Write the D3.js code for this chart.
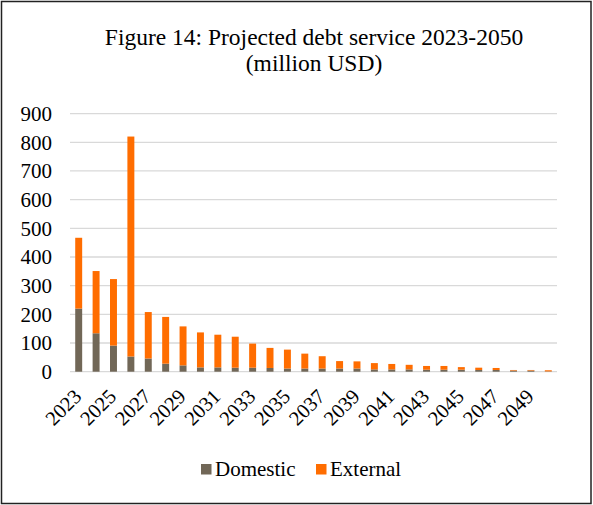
<!DOCTYPE html>
<html>
<head>
<meta charset="utf-8">
<script src="https://cdn.jsdelivr.net/npm/d3@7"></script>
<style>
  body { margin: 0; background: #fff; }
  svg { display: block; }
</style>
</head>
<body>
<svg id="chart" width="593" height="505"></svg>
<script>
// Projected debt service by year (million USD)
const years = d3.range(2023, 2051).map(String);
const domestic = [220, 134, 91, 53, 46, 28, 22, 15, 15, 14, 14, 13, 11, 11, 11, 11, 11, 8, 8, 8, 7, 7, 7, 6, 6, 4, 4, 1];
const external = [247, 217, 232, 767, 162, 163, 136, 122, 114, 108, 84, 70, 66, 52, 43, 26, 25, 22, 19, 16, 13, 13, 9, 8, 7, 2, 2, 4];
const yTicks = [0, 100, 200, 300, 400, 500, 600, 700, 800, 900];
const xTickLabels = years.filter((d, i) => i % 2 === 0);
const seriesNames = ["Domestic", "External"];
const seriesColors = ["#716757", "#ff6d00"];

const FONT = "'Liberation Serif', 'Times New Roman', serif";
const svg = d3.select("#chart");
const W = 593, H = 505;

// outer frame
svg.append("rect")
  .attr("x", 1.5).attr("y", 1.5)
  .attr("width", W - 3.5).attr("height", H - 3)
  .attr("fill", "none").attr("stroke", "#222").attr("stroke-width", 1.5);

// title
const title = svg.append("text")
  .attr("text-anchor", "middle")
  .attr("font-family", FONT)
  .attr("font-size", 23.5);
title.append("tspan").attr("x", 314).attr("y", 45).text("Figure 14: Projected debt service 2023-2050");
title.append("tspan").attr("x", 314).attr("y", 71).text("(million USD)");

const plot = { left: 70, right: 557, top: 113.6, bottom: 371.7 };

const x = d3.scaleBand()
  .domain(years)
  .range([plot.left, plot.right])
  .paddingInner(0.6)
  .paddingOuter(0.3);

const y = d3.scaleLinear()
  .domain([0, 900])
  .range([plot.bottom, plot.top]);

// gridlines
svg.append("g")
  .selectAll("line")
  .data(yTicks)
  .join("line")
  .attr("x1", plot.left).attr("x2", plot.right)
  .attr("y1", d => y(d)).attr("y2", d => y(d))
  .attr("stroke", "#d9d9d9").attr("stroke-width", 1.3);

// y-axis labels
svg.append("g")
  .selectAll("text")
  .data(yTicks)
  .join("text")
  .attr("x", 52)
  .attr("y", d => y(d))
  .attr("dy", "0.35em")
  .attr("text-anchor", "end")
  .attr("font-family", FONT)
  .attr("font-size", 21)
  .text(d => d);

// stacked bars
const rows = years.map((yr, i) => ({ year: yr, Domestic: domestic[i], External: external[i] }));
const stacked = d3.stack().keys(seriesNames)(rows);

svg.append("g")
  .selectAll("g")
  .data(stacked)
  .join("g")
  .attr("fill", (d, i) => seriesColors[i])
  .selectAll("rect")
  .data(d => d)
  .join("rect")
  .attr("x", d => x(d.data.year))
  .attr("width", x.bandwidth())
  .attr("y", d => y(d[1]))
  .attr("height", d => y(d[0]) - y(d[1]));

// x-axis labels, rotated
svg.append("g")
  .selectAll("text")
  .data(xTickLabels)
  .join("text")
  .attr("text-anchor", "end")
  .attr("font-family", FONT)
  .attr("font-size", 20.5)
  .attr("transform", d => `translate(${x(d) + x.bandwidth() / 2 + 4},${plot.bottom + 26}) rotate(-45)`)
  .text(d => d);

// legend
const legend = svg.append("g");
const legendItems = [{ name: "Domestic", x: 201 }, { name: "External", x: 316 }];
legendItems.forEach((item, i) => {
  legend.append("rect")
    .attr("x", item.x).attr("y", 464)
    .attr("width", 10.5).attr("height", 10.5)
    .attr("fill", seriesColors[i]);
  legend.append("text")
    .attr("x", item.x + 14).attr("y", 476)
    .attr("font-family", FONT)
    .attr("font-size", 21)
    .text(item.name);
});
</script>
</body>
</html>
